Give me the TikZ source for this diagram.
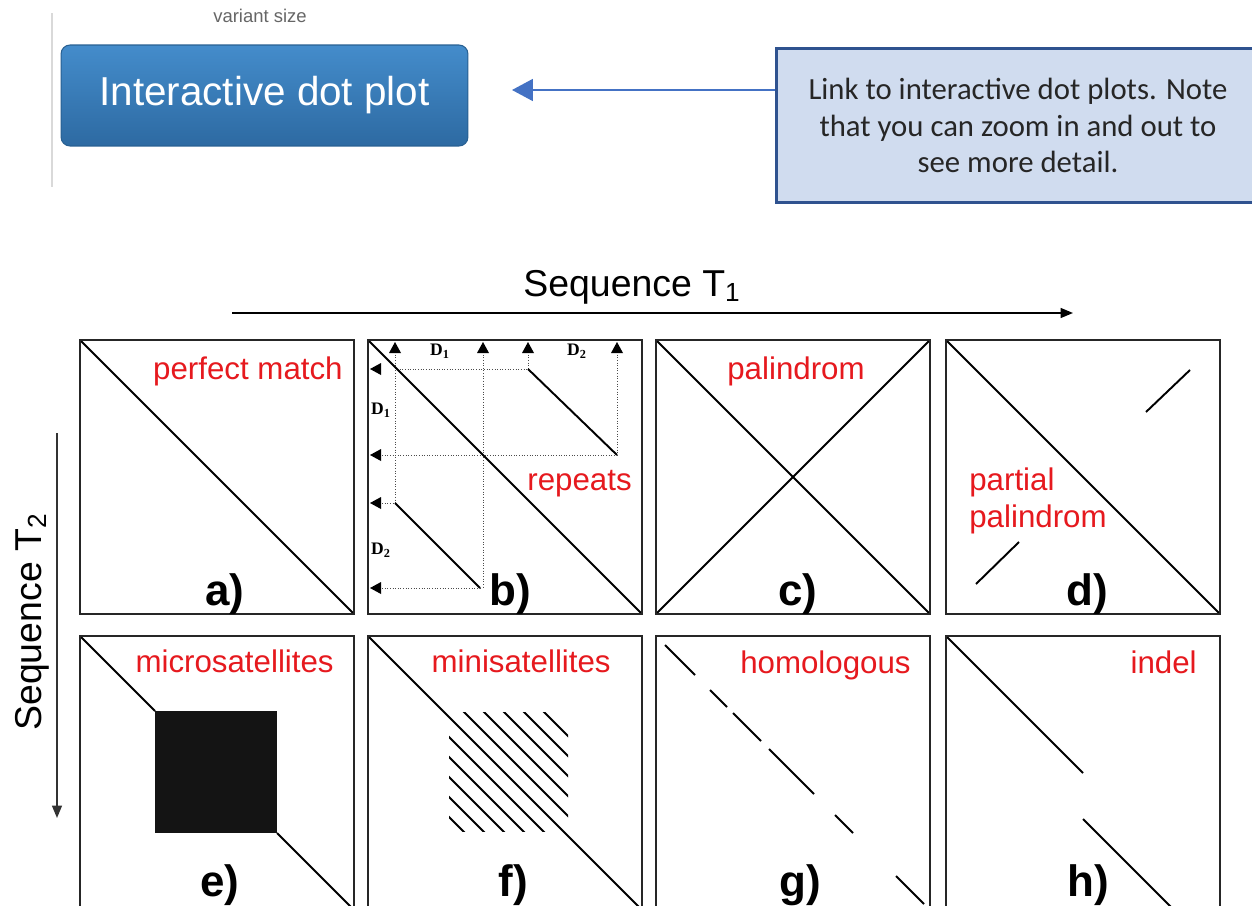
\documentclass[tikz,border=0pt]{standalone}
\usepackage{fontspec}
\setmainfont{Liberation Sans}
\newfontfamily\notefont{Carlito}
\newfontfamily\dfont{Liberation Serif}
\usetikzlibrary{arrows.meta}

\definecolor{plotred}{RGB}{230,25,30}
\definecolor{btntop}{RGB}{68,140,203}
\definecolor{btnbot}{RGB}{45,106,162}
\definecolor{btnedge}{RGB}{40,96,146}
\definecolor{notefill}{RGB}{208,220,239}
\definecolor{noteedge}{RGB}{47,82,143}
\definecolor{linkblue}{RGB}{68,114,196}

\tikzset{
  frame/.style={draw=black!85, line width=1.6pt},
  diag/.style={line width=1.1pt},
  redtxt/.style={text=plotred, font=\fontsize{17.8}{21}\selectfont, inner sep=0pt},
  tag/.style={font=\bfseries\fontsize{25}{28}\selectfont, inner sep=0pt, anchor=base},
  guide/.style={densely dotted, line width=0.5pt, black!70},
  dlab/.style={font=\dfont\bfseries\fontsize{10}{12}\selectfont, inner sep=0pt},
  seqtxt/.style={font=\fontsize{21.3}{24}\selectfont, inner sep=0pt},
  button/.style={top color=btntop, bottom color=btnbot, draw=btnedge, line width=0.6pt,
    rounded corners=0.18cm, minimum width=8.14cm, minimum height=2.02cm,
    text=white, font=\fontsize{23}{26}\selectfont},
  note/.style={fill=notefill, draw=noteedge, line width=1.7pt, minimum width=9.68cm,
    minimum height=3.1cm, align=center, text=black!85,
    font=\notefont\fontsize{17.5}{20.6}\selectfont},
  linkarrow/.style={draw=linkblue, line width=1.1pt,
    -{Triangle[length=0.42cm, width=0.44cm, fill=linkblue]}},
  axis/.style={line width=0.9pt, -{Triangle[length=0.25cm, width=0.2cm]}},
}

\begin{document}
\begin{tikzpicture}[x=0.02cm, y=-0.02cm]
\clip (0,0) rectangle (1252,906);
\fill[white] (0,0) rectangle (1252,906);

% top: button and note
\draw[black!15, line width=1.1pt] (52,13) -- (52,187);
\node[font=\fontsize{10.5}{12}\selectfont, text=black!60, inner sep=0pt, anchor=base] (vsize) at (260,22) {variant size};
\node[button] (btn) at (264.5,95.5) {Interactive dot plot};
\node[note] (note) at (1018,125.5) {Link to interactive dot plots. Note\\that you can zoom in and out to\\see more detail.};
\coordinate (tip) at (512,90);
\draw[linkarrow] (note.west |- tip) -- (tip);

% sequence axes
\node[seqtxt] (seqT1) at (632,287) {Sequence T\textsubscript{1}};
\coordinate (t1a) at (232,313);
\coordinate (t1b) at (1073,313);
\draw[axis] (t1a) -- (t1b);
\node[seqtxt, rotate=90] (seqT2) at (32,622) {Sequence T\textsubscript{2}};
\coordinate (t2a) at (57,433);
\coordinate (t2b) at (57,818);
\draw[axis, black!80] (t2a) -- (t2b);

% a) perfect match
\begin{scope}[shift={(80,340)}]
\draw[diag] (0,0) -- (274,274);
\draw[frame] (0,0) rectangle (274,274);
\node[redtxt, anchor=base east] (lblA) at (263,39) {perfect match};
\node[tag] (tagA) at (145,265) {a)};
\end{scope}

% b) repeats
\begin{scope}[shift={(368,340)}]
\draw[guide] (27,12) -- (27,163);
\draw[guide] (29,29) -- (160,29);
\draw[guide] (14,163) -- (27,163);
\draw[guide] (14,248) -- (112,248);
\draw[guide] (115,12) -- (115,248);
\draw[guide] (14,115) -- (249,115);
\draw[guide] (249,12) -- (249,115);
\draw[guide] (160,12) -- (160,29);
\foreach \x in {27,115,160,249}
  \fill (\x,2) -- (\x-6,13) -- (\x+6,13) -- cycle;
\foreach \y in {29,115,163,248}
  \fill (2,\y) -- (13,\y-6) -- (13,\y+6) -- cycle;
\draw[diag] (0,0) -- (274,274);
\draw[diag] (160,29) -- (249,115);
\draw[diag] (27,163) -- (112,248);
\draw[frame] (0,0) rectangle (274,274);
\node[dlab] (dTop1) at (72,11) {D\textsubscript{1}};
\node[dlab] (dTop2) at (209,11) {D\textsubscript{2}};
\node[dlab] (dLeft1) at (13,70) {D\textsubscript{1}};
\node[dlab] (dLeft2) at (13,210) {D\textsubscript{2}};
\node[redtxt, anchor=base east] (lblB) at (264,150) {repeats};
\node[tag] (tagB) at (142,265) {b)};
\end{scope}

% c) palindrom
\begin{scope}[shift={(656,340)}]
\draw[diag] (0,0) -- (274,274);
\draw[diag] (0,274) -- (274,0);
\draw[frame] (0,0) rectangle (274,274);
\node[redtxt, anchor=base] (lblC) at (140,39) {palindrom};
\node[tag] (tagC) at (142,265) {c)};
\end{scope}

% d) partial palindrom
\begin{scope}[shift={(946,340)}]
\draw[diag] (0,0) -- (274,274);
\draw[diag] (200,72) -- (244,30);
\draw[diag] (30,244) -- (73,202);
\draw[frame] (0,0) rectangle (274,274);
\node[redtxt, anchor=base west] (lblD1) at (23,150) {partial};
\node[redtxt, anchor=base west] (lblD2) at (23,187) {palindrom};
\node[tag] (tagD) at (141,265) {d)};
\end{scope}

% e) microsatellites
\begin{scope}[shift={(80,636)}]
\draw[diag] (0,0) -- (75,75);
\fill[black!92] (75,75) rectangle (197,197);
\draw[diag] (197,197) -- (274,274);
\draw[frame] (0,0) rectangle (274,274);
\node[redtxt, anchor=base east] (lblE) at (254,36) {microsatellites};
\node[tag] (tagE) at (140,260) {e)};
\end{scope}

% f) minisatellites
\begin{scope}[shift={(368,636)}]
\draw[diag] (0,0) -- (274,274);
\begin{scope}
\clip (81,76) rectangle (200,195);
\foreach \k in {-5,-4,-3,-2,-1,1,2,3,4,5}
  \draw[diag] (0,20*\k) -- (274,274+20*\k);
\end{scope}
\draw[frame] (0,0) rectangle (274,274);
\node[redtxt, anchor=base east] (lblF) at (243,36) {minisatellites};
\node[tag] (tagF) at (145,260) {f)};
\end{scope}

% g) homologous
\begin{scope}[shift={(656,636)}]
\foreach \a/\b in {9/39, 54/71, 77/105, 113/158, 179/197, 240/268}
  \draw[diag] (\a,\a) -- (\b,\b);
\draw[frame] (0,0) rectangle (274,274);
\node[redtxt, anchor=base east] (lblG) at (255,37) {homologous};
\node[tag] (tagG) at (144,260) {g)};
\end{scope}

% h) indel
\begin{scope}[shift={(946,636)}]
\draw[diag] (0,0) -- (137,137);
\draw[diag] (137,183) -- (228,274);
\draw[frame] (0,0) rectangle (274,274);
\node[redtxt, anchor=base east] (lblH) at (251,37) {indel};
\node[tag] (tagH) at (142,260) {h)};
\end{scope}
\end{tikzpicture}
\end{document}
